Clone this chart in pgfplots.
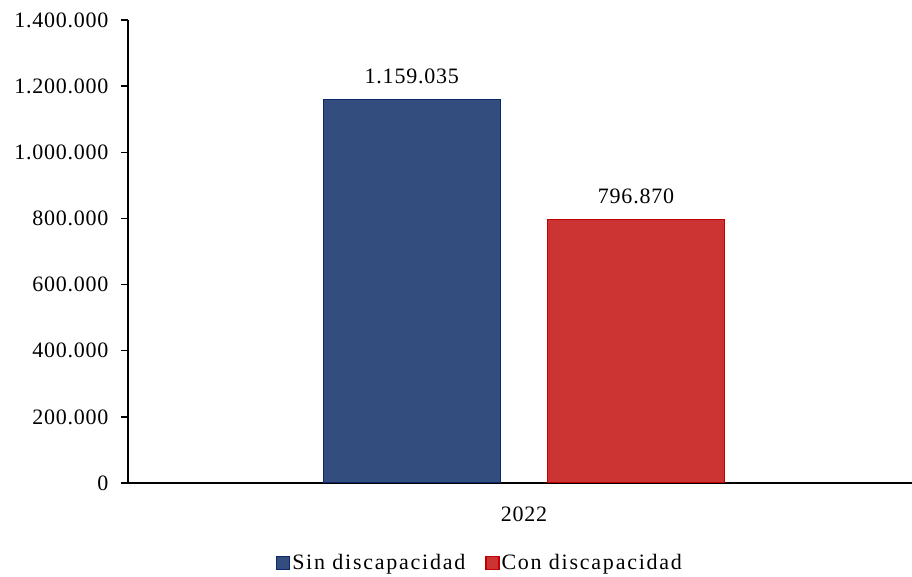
\documentclass[border=0pt]{standalone}
\usepackage{pgfplots}
\pgfplotsset{compat=1.18}
\usepackage{fontspec}
\setmainfont{Liberation Serif}[LetterSpace=3.5]
\newfontfamily\legfont{Liberation Serif}[LetterSpace=8]
\definecolor{sinfill}{RGB}{51,78,126}
\definecolor{sindraw}{RGB}{12,40,105}
\definecolor{confill}{RGB}{204,51,51}
\definecolor{condraw}{RGB}{192,0,0}
\begin{document}
\fontsize{22}{26}\selectfont
\begin{tikzpicture}
\begin{axis}[
  scale only axis,
  width=784pt, height=463pt,
  at={(0,0)}, anchor=south west,
  xmin=-0.505, xmax=0.495,
  ymin=0, ymax=1400000,
  ybar, bar width=0.226,
  axis x line*=bottom, axis y line*=left,
  axis line style={black, line width=1.3pt},
  ytick={0,200000,400000,600000,800000,1000000,1200000,1400000},
  scaled y ticks=false,
  yticklabel style={xshift=-5pt, /pgf/number format/.cd, fixed, 1000 sep={.}, assume math mode=true},
  tick style={black, line width=1.3pt},
  tick align=outside, major tick length=7pt,
  xtick={0}, xticklabels={2022},
  x tick style={draw=none},
  xticklabel style={yshift=-9pt},
  extra x ticks={-0.505}, extra x tick labels={},
  extra x tick style={tick style={black, line width=1.3pt}, major tick length=7pt},
  font=\fontsize{22}{26}\selectfont,
  tick label style={font=\fontsize{22}{26}\selectfont},
  nodes near coords,
  point meta=explicit symbolic,
  every node near coord/.append style={font=\fontsize{22}{26}\selectfont, yshift=8pt},
  legend style={at={(0.449,-0.173)}, anchor=center, legend columns=2, draw=none,
    font=\fontsize{22}{26}\legfont,
    /tikz/every even column/.append style={column sep=18pt}},
  legend image code/.code={\draw[#1, line width=1.2pt] (0pt,-6.5pt) rectangle (13pt,6.5pt);},
  legend cell align=left,
]
\addplot[fill=sinfill, draw=sindraw, line width=1.2pt, bar shift=0pt] coordinates {(-0.143,1159035) [1.159.035]};
\addplot[fill=confill, draw=condraw, line width=1.2pt, bar shift=0pt] coordinates {(0.143,796870) [796.870]};
\legend{Sin discapacidad, Con discapacidad}
\end{axis}
\pgfresetboundingbox
\useasboundingbox (-128pt,-94pt) rectangle (784pt,483pt);
\end{tikzpicture}
\end{document}
